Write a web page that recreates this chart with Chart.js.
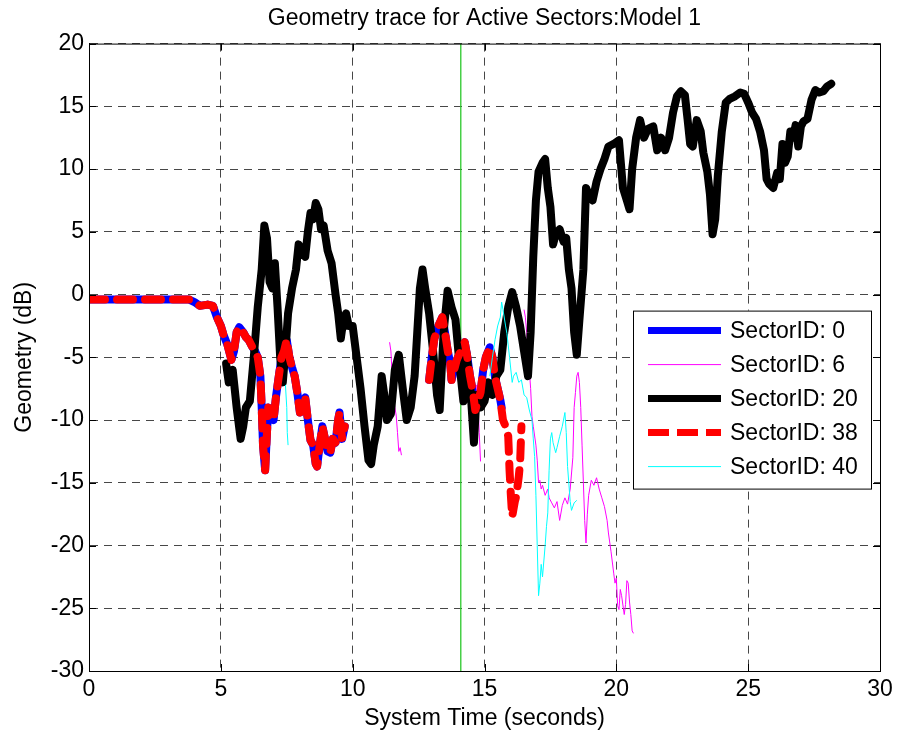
<!DOCTYPE html>
<html>
<head>
<meta charset="utf-8">
<title>Geometry trace</title>
<script src="https://cdn.jsdelivr.net/npm/chart.js@4.4.0/dist/chart.umd.min.js"></script>
<style>
  html, body { margin: 0; padding: 0; background: #fff; }
  #wrap { width: 899px; height: 735px; }
</style>
</head>
<body>
<div id="wrap"><canvas id="geomChart" width="899" height="735"></canvas></div>
<script>
// sector traces: time (s) and geometry (dB); null marks a gap where the sector is inactive
const time0 = [0, 1, 2, 3, 3.8, 4.0, 4.2, 4.5, 4.7, 4.85, 5.0, 5.1, 5.25, 5.4, 5.5, 5.6, 5.7, 5.85, 5.95, 6.05, 6.2, 6.3, 6.4, 6.5, 6.55, 6.6, 6.68, 6.75, 6.8, 6.9, 7.0, 7.1, 7.2, 7.3, 7.4, 7.5, 7.6, 7.7, 7.8, 7.9, 8.0, 8.1, 8.2, 8.3, 8.4, 8.5, 8.6, 8.65, 8.75, 8.85, 8.95, 9.05, 9.15, 9.25, 9.35, 9.45, 9.5, 9.6, 9.7,
  11.0,
  12.9, 13.0, 13.1, 13.25, 13.4, 13.5, 13.6, 13.7, 13.75, 13.85, 13.95, 14.1, 14.25, 14.35, 14.45, 14.55, 14.65, 14.75, 14.85, 14.95, 15.05, 15.2, 15.3, 15.4, 15.5, 15.6, 15.65]
const geo0 = [-0.4, -0.4, -0.4, -0.4, -0.4, -0.6, -0.9, -0.8, -0.9, -1.8, -2.5, -3.2, -4, -5.2, -4.5, -3, -2.6, -3, -3.4, -3.6, -4.2, -4.5, -5, -6.5, -9, -12, -14, -11, -9, -9.5, -10, -8, -6.5, -5, -4.5, -3.6, -5, -5.8, -6.5, -7.8, -9.4, -8.7, -8.2, -10, -11.6, -12, -13.5, -13.7, -12, -10.5, -11.5, -12.5, -12.6, -11.5, -11.8, -10, -9.4, -11.5, -10.5,
  null,
  -6.8, -5, -3.5, -2.5, -1.8, -3, -4.4, -5.5, -6.8, -6, -5.2, -4.5, -3.8, -5, -6.5, -7.6, -9.2, -8.5, -7.8, -6, -5, -4.2, -5, -6.6, -7.5, -8.4, -9]

const time6 = [11.4, 11.45, 11.5, 11.55, 11.6, 11.65, 11.7, 11.75, 11.8, 11.85,
  13.0,
  14.7, 14.75, 14.8, 14.85,
  15.5,
  16.5, 16.55, 16.6, 16.65, 16.7, 16.75, 16.8, 16.85, 16.95, 17.0, 17.05, 17.1, 17.15, 17.2, 17.3, 17.4, 17.45, 17.55, 17.65, 17.75, 17.85, 17.95, 18.05, 18.15, 18.25, 18.35, 18.4, 18.45, 18.5, 18.55, 18.6, 18.65, 18.7, 18.75, 18.8, 18.85, 18.9, 18.95, 19.05, 19.15, 19.25, 19.35, 19.45, 19.55, 19.65, 19.7, 19.8, 19.9, 19.95, 20.0, 20.05, 20.1, 20.15, 20.2, 20.3, 20.35, 20.4, 20.45, 20.5, 20.55, 20.6, 20.65]
const geo6 = [-3.8, -4.5, -6.5, -8, -9, -9.6, -11, -12.5, -12.2, -12.8,
  null,
  -7.2, -8.5, -11, -13.3,
  null,
  -1.2, -1.8, -3, -4.5, -6, -7.5, -9.7, -10.5, -12, -13.2, -15, -14.8, -15.5, -15.2, -16, -15.5, -16.2, -16.6, -17, -16.5, -18, -16.8, -16.2, -16.7, -15.5, -13, -9, -7.8, -6.5, -6.2, -7, -9, -12, -15, -18, -19.8, -17.5, -16, -14.8, -15.2, -14.6, -15.5, -16.2, -16.9, -18, -19, -20.5, -22.2, -23, -22.6, -24.8, -25.1, -23.5, -24, -25.5, -24.7, -22.8, -23, -24.5, -25.5, -26.8, -27]

const time20 = [5.2, 5.3, 5.45, 5.6, 5.75, 5.85, 5.95, 6.1, 6.25, 6.4, 6.55, 6.65, 6.75, 6.85, 6.95, 7.05, 7.15, 7.25, 7.35, 7.45, 7.55, 7.7, 7.85, 7.95, 8.05, 8.2, 8.3, 8.4, 8.5, 8.6, 8.7, 8.8, 8.9, 9.05, 9.2, 9.35, 9.45, 9.55, 9.65, 9.75, 9.85, 10.0, 10.15, 10.3, 10.45, 10.6, 10.7, 10.8, 10.95, 11.1, 11.2, 11.3, 11.45, 11.6, 11.75, 11.9, 12.05, 12.2, 12.35, 12.45, 12.55, 12.65, 12.75, 12.9, 13.05, 13.2, 13.3, 13.45, 13.6, 13.75, 13.9, 14.05, 14.2, 14.3, 14.45, 14.6, 14.7, 14.85, 15.0, 15.15, 15.3, 15.45, 15.6, 15.75, 15.9, 16.05, 16.2, 16.35, 16.5, 16.65, 16.75, 16.85, 16.95, 17.05, 17.2, 17.3, 17.4, 17.5, 17.6, 17.7, 17.85, 18.0, 18.1, 18.2, 18.3, 18.4, 18.5, 18.6, 18.75, 18.85, 18.95, 19.1, 19.25, 19.4, 19.55, 19.7, 19.9, 20.1, 20.25, 20.4, 20.5, 20.6, 20.75, 20.9, 21.05, 21.2, 21.4, 21.55, 21.7, 21.85, 22.0, 22.15, 22.3, 22.45, 22.6, 22.7, 22.8, 22.9, 23.05, 23.2, 23.3, 23.45, 23.55, 23.65, 23.75, 23.85, 24.0, 24.15, 24.3, 24.5, 24.7, 24.85, 25.0, 25.15, 25.3, 25.45, 25.6, 25.7, 25.8, 25.95, 26.1, 26.2, 26.3, 26.4, 26.5, 26.6, 26.7, 26.8, 26.9, 27.0, 27.1, 27.25, 27.4, 27.55, 27.7, 27.85, 28.0, 28.15]
const geo20 = [-5.5, -7, -6, -9, -11.5, -10.5, -9, -8.5, -5, -1, 2, 5.5, 4.5, 1, 0.5, 2.5, -1, -5, -7, -4.5, -1.5, 0.5, 2, 4, 3.5, 3, 5, 6.5, 6, 7.3, 6.8, 5.2, 5.5, 3.5, 2.5, 0, -1.5, -3.5, -2, -1.5, -2.5, -2.5, -5, -7.5, -10.5, -13.2, -13.5, -12, -10.5, -6.5, -8, -10, -9.5, -6, -4.8, -7.5, -10, -9, -6.5, -3, 0.5, 2, 0.5, -1.5, -4.5, -8, -9.2, -3, 0.3, -1, -2, -5.5, -8.5, -4.5, -7, -11.8, -8, -9, -8.5, -7, -8, -6.5, -6, -3, -1, 0.2, -1, -2.5, -4.5, -6.5, -3, 3, 7.5, 9.8, 10.5, 10.8, 8.5, 7, 4, 4.8, 5.2, 4.2, 4.5, 2, 0.5, -3, -4.8, -2, 2, 8.5, 8, 7.5, 9, 10, 10.8, 11.8, 12, 12.3, 8.5, 7.5, 6.8, 10, 12.5, 13.9, 12.5, 13.2, 13.4, 11.5, 12.5, 11.5, 12.5, 14.5, 15.8, 16.2, 15.9, 14, 12, 11.8, 13.9, 13, 11.3, 9.8, 8, 4.8, 6, 9.5, 13, 15.3, 15.6, 15.8, 16.1, 16, 15.3, 14.5, 14, 13, 11.5, 9.2, 8.8, 8.5, 9.7, 9.2, 12, 10.5, 11, 13, 12.5, 13.5, 11.8, 13.4, 13.8, 14, 15.5, 16.3, 16.1, 16.2, 16.6, 16.8]

const time38 = [0, 1, 2, 3, 3.8, 4.0, 4.2, 4.5, 4.7, 4.85, 5.0, 5.1, 5.25, 5.4, 5.5, 5.6, 5.7, 5.85, 5.95, 6.05, 6.2, 6.3, 6.4, 6.5, 6.55, 6.6, 6.68, 6.75, 6.8, 6.9, 7.0, 7.1, 7.2, 7.3, 7.4, 7.5, 7.6, 7.7, 7.8, 7.9, 8.0, 8.1, 8.2, 8.3, 8.4, 8.5, 8.6, 8.65, 8.75, 8.85, 8.95, 9.05, 9.15, 9.25, 9.35, 9.45, 9.5, 9.6, 9.7,
  11.0,
  12.9, 13.0, 13.1, 13.25, 13.4, 13.5, 13.6, 13.7, 13.75, 13.85, 13.95, 14.1, 14.25, 14.35, 14.45, 14.55, 14.65, 14.75, 14.85, 14.95, 15.05, 15.2, 15.3, 15.4, 15.5, 15.6, 15.7, 15.8, 15.9, 15.95, 16.0, 16.05, 16.15, 16.2, 16.3, 16.35, 16.4]
const geo38 = [-0.4, -0.4, -0.4, -0.4, -0.4, -0.6, -0.9, -0.8, -0.9, -1.8, -2.5, -3.2, -4, -5.2, -4.5, -3, -2.6, -3, -3.4, -3.6, -4.2, -4.5, -5, -6.5, -9, -12, -14, -11, -9, -9.5, -10, -8, -6.5, -5, -4.5, -3.6, -5, -5.8, -6.5, -7.8, -9.4, -8.7, -8.2, -10, -11.6, -12, -13.5, -13.7, -12, -10.5, -11.5, -12.5, -12.6, -11.5, -11.8, -10, -9.4, -11.5, -10.5,
  null,
  -6.8, -5, -3.5, -2.5, -1.8, -3, -4.4, -5.5, -6.8, -6, -5.2, -4.5, -3.8, -5, -6.5, -7.6, -9.2, -8.5, -7.8, -6, -5, -4.2, -5, -6.6, -7.5, -8.4, -10, -10.5, -11.3, -14, -16, -17.7, -16.5, -16.1, -14.5, -13.4, -10.5]

const time40 = [7.45, 7.5, 7.52, 7.55,
  10.0,
  15.2, 15.3, 15.4, 15.5, 15.6, 15.65, 15.7, 15.8, 15.85, 15.95, 16.05, 16.1, 16.2, 16.3, 16.4, 16.5, 16.6, 16.7, 16.8, 16.85, 16.9, 16.95, 17.0, 17.05, 17.1, 17.15, 17.2, 17.3, 17.35, 17.4, 17.45, 17.5, 17.55, 17.6, 17.7, 17.75, 17.85, 17.95, 18.05, 18.1, 18.15, 18.25, 18.3, 18.4, 18.5]
const geo40 = [-7.2, -9, -11, -12,
  null,
  -6.5, -5, -3.6, -2.5, -1.8, -0.6, -1.2, -2.5, -3.1, -5, -7, -6.5, -6.2, -7, -6.8, -8, -8.2, -9.2, -10, -11.5, -12.9, -16, -20, -24, -23, -21.5, -22.5, -20, -18.5, -17.4, -14, -11.5, -11, -11.8, -12.6, -12.2, -11.3, -10.5, -9.4, -11, -13.7, -16.5, -17.2, -16.6, -16.4]

// vertical marker at the current system time
const markerTime = 14.1

const sectorNames = ['SectorID: 0', 'SectorID: 6', 'SectorID: 20', 'SectorID: 38', 'SectorID: 40']
const sectorColors = ['#0000ff', '#ff00ff', '#000000', '#ff0000', '#00ffff']
const sectorWidths = [8, 1, 8, 8, 1]
// dash lengths for the plot (round caps eat into the gaps) and for the legend sample
const sectorDash = [[], [], [], [16, 12], []]
const legendDash = [[], [], [], [21, 8], []]

const xTicks = [0, 5, 10, 15, 20, 25, 30]
const yTicks = [20, 15, 10, 5, 0, -5, -10, -15, -20, -25, -30]

function toPoints(ts, vs) {
    return ts.map(function (t, i) { return { x: t, y: vs[i] } })
}

const traces = [
    toPoints(time0, geo0),
    toPoints(time6, geo6),
    toPoints(time20, geo20),
    toPoints(time38, geo38),
    toPoints(time40, geo40)
]

const FONT = 'Liberation Sans, Arial, Helvetica, sans-serif'

// later sectors sit on top, like the plotting order
const datasets = [{
    label: 'marker',
    data: [{ x: markerTime, y: yTicks[0] }, { x: markerTime, y: yTicks[yTicks.length - 1] }],
    borderColor: 'rgba(40,200,40,0.8)',
    borderWidth: 0.8,
    pointRadius: 0,
    order: 10
}]
traces.forEach(function (pts, i) {
    datasets.push({
        label: sectorNames[i],
        data: pts,
        borderColor: sectorColors[i],
        backgroundColor: sectorColors[i],
        borderWidth: sectorWidths[i],
        borderDash: sectorDash[i],
        borderJoinStyle: 'round',
        borderCapStyle: sectorWidths[i] > 1 ? 'round' : 'butt',
        pointRadius: 0,
        tension: 0,
        spanGaps: false,
        order: 5 - i
    })
})

// box, inward ticks and legend
const boxPlugin = {
    id: 'boxPlugin',
    afterDraw(chart) {
        const ctx = chart.ctx
        const a = chart.chartArea
        const xs = chart.scales.x
        const ys = chart.scales.y
        ctx.save()
        ctx.strokeStyle = '#000'
        ctx.lineWidth = 1
        ctx.setLineDash([])
        ctx.strokeRect(a.left + 0.5, a.top + 0.5, a.right - a.left, a.bottom - a.top)
        ctx.beginPath()
        xTicks.forEach(function (v) {
            const px = Math.round(xs.getPixelForValue(v)) + 0.5
            ctx.moveTo(px, a.bottom); ctx.lineTo(px, a.bottom - 7)
            ctx.moveTo(px, a.top); ctx.lineTo(px, a.top + 7)
        })
        yTicks.forEach(function (v) {
            const py = Math.round(ys.getPixelForValue(v)) + 0.5
            ctx.moveTo(a.left, py); ctx.lineTo(a.left + 7, py)
            ctx.moveTo(a.right, py); ctx.lineTo(a.right - 7, py)
        })
        ctx.stroke()

        // legend box in the lower right of the axes
        const lw = 238, lh = 178
        const lx = a.right - 9 - lw
        const ly = a.top + 267
        ctx.fillStyle = '#fff'
        ctx.fillRect(lx, ly, lw, lh)
        ctx.strokeRect(lx + 0.5, ly + 0.5, lw, lh)
        ctx.font = '23px ' + FONT
        ctx.textBaseline = 'middle'
        ctx.textAlign = 'left'
        sectorNames.forEach(function (name, i) {
            const cy = ly + 20 + i * 34
            ctx.beginPath()
            ctx.strokeStyle = sectorColors[i]
            ctx.lineWidth = Math.min(sectorWidths[i], 7)
            ctx.setLineDash(legendDash[i])
            ctx.lineCap = 'butt'
            ctx.moveTo(lx + 15, cy)
            ctx.lineTo(lx + 88, cy)
            ctx.stroke()
            ctx.setLineDash([])
            ctx.fillStyle = '#000'
            ctx.fillText(name, lx + 97, cy + 1)
        })
        ctx.restore()
    }
}

new Chart(document.getElementById('geomChart'), {
    type: 'line',
    data: { datasets: datasets },
    options: {
        responsive: false,
        animation: false,
        events: [],
        layout: { padding: { left: 0, right: 19, top: 0, bottom: 0 } },
        plugins: {
            legend: { display: false },
            tooltip: { enabled: false },
            title: {
                display: true,
                text: 'Geometry trace for Active Sectors:Model 1',
                fullSize: false,
                color: '#000',
                font: { family: FONT, size: 23, weight: 'normal' },
                padding: { top: 5, bottom: 11 }
            }
        },
        scales: {
            x: {
                type: 'linear',
                min: 0,
                max: 30,
                afterFit: function (scale) { scale.height = 64 },
                afterBuildTicks: function (scale) { scale.ticks = xTicks.map(function (v) { return { value: v } }) },
                ticks: { color: '#000', padding: 5, font: { family: FONT, size: 23 } },
                grid: { color: 'rgba(0,0,0,0.72)', lineWidth: 1, drawTicks: false },
                border: { display: true, color: '#000', dash: [8, 6] },
                title: {
                    display: true,
                    text: 'System Time (seconds)',
                    color: '#000',
                    font: { family: FONT, size: 23 },
                    padding: { top: 0, bottom: 3 }
                }
            },
            y: {
                type: 'linear',
                min: -30,
                max: 20,
                afterFit: function (scale) { scale.width = 89 },
                afterBuildTicks: function (scale) { scale.ticks = yTicks.map(function (v) { return { value: v } }) },
                ticks: { color: '#000', padding: 5, font: { family: FONT, size: 23 } },
                grid: { color: 'rgba(0,0,0,0.72)', lineWidth: 1, drawTicks: false },
                border: { display: true, color: '#000', dash: [8, 6] },
                title: {
                    display: true,
                    text: 'Geometry (dB)',
                    color: '#000',
                    font: { family: FONT, size: 23 },
                    padding: { top: 11, bottom: 0 }
                }
            }
        }
    },
    plugins: [boxPlugin]
})
</script>
</body>
</html>
